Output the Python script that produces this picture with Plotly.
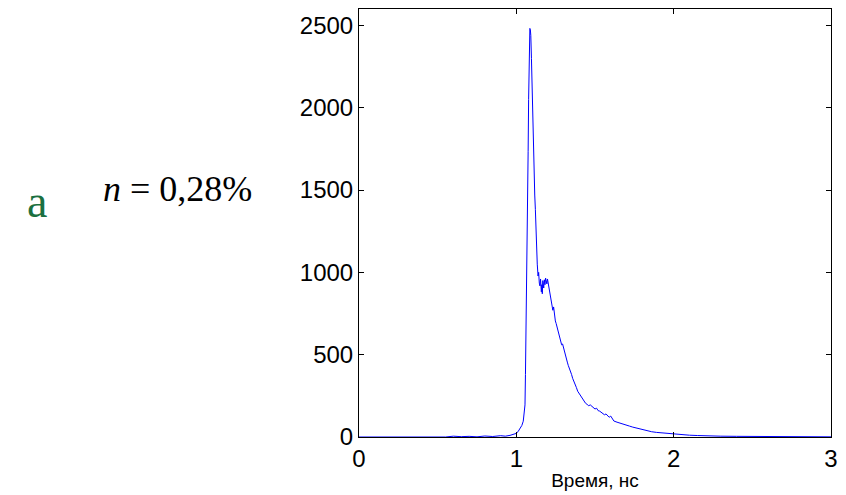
import plotly.graph_objects as go

# time, ns
time_ns = [
    0.0, 0.1, 0.2, 0.3, 0.35, 0.4, 0.45, 0.5, 0.55, 0.6,
    0.65, 0.7, 0.75, 0.8, 0.85, 0.9, 0.93, 0.96, 0.98, 1.0,
    1.013, 1.025, 1.035, 1.044, 1.05, 1.055, 1.058, 1.061, 1.065, 1.069,
    1.072, 1.075, 1.078, 1.08, 1.083, 1.086, 1.089, 1.092, 1.096, 1.1,
    1.103, 1.108, 1.113, 1.117, 1.121, 1.125, 1.128, 1.133, 1.138, 1.142,
    1.146, 1.15, 1.154, 1.157, 1.159, 1.162, 1.165, 1.168, 1.17, 1.174,
    1.178, 1.182, 1.186, 1.19, 1.194, 1.198, 1.202, 1.206, 1.21, 1.214,
    1.218, 1.222, 1.227, 1.232, 1.237, 1.243, 1.248, 1.253, 1.258, 1.264,
    1.27, 1.276, 1.282, 1.288, 1.294, 1.3, 1.306, 1.312, 1.318, 1.324,
    1.33, 1.337, 1.344, 1.351, 1.358, 1.366, 1.374, 1.382, 1.39, 1.4,
    1.41, 1.42, 1.43, 1.44, 1.45, 1.46, 1.47, 1.48, 1.49, 1.5,
    1.51, 1.52, 1.53, 1.54, 1.55, 1.56, 1.57, 1.58, 1.59, 1.6,
    1.62, 1.64, 1.66, 1.68, 1.7, 1.72, 1.74, 1.76, 1.78, 1.8,
    1.83, 1.86, 1.89, 1.92, 1.95, 1.98, 2.01, 2.04, 2.07, 2.1,
    2.15, 2.2, 2.25, 2.3, 2.4, 2.5, 2.6, 2.7, 2.8, 2.9, 3.0,
]

counts = [
    0, 0, 0, 0, 3, 0, 4, 2, 0, 5,
    2, 4, 1, 6, 3, 8, 5, 10, 14, 22,
    36, 52, 70, 96, 140, 195, 380, 580, 820, 1063,
    1420, 1733, 2050, 2277, 2420, 2482, 2475, 2440, 2300, 2120,
    1956, 1760, 1582, 1470, 1383, 1250, 1153, 1050, 978, 1000,
    935, 918, 960, 890, 882, 925, 870, 950, 942, 905,
    955, 925, 965, 948, 930, 960, 940, 918, 900, 880,
    860, 821, 800, 770, 790, 730, 705, 690, 670, 658,
    640, 610, 590, 560, 565, 540, 519, 500, 480, 455,
    435, 420, 395, 380, 356, 340, 320, 300, 278, 262,
    245, 232, 217, 205, 198, 190, 195, 187, 178, 170,
    175, 160, 157, 150, 142, 135, 140, 128, 120, 127,
    97, 90, 85, 78, 72, 66, 60, 55, 50, 45,
    36, 32, 28, 25, 22, 20, 18, 16, 14, 11,
    9, 7, 6, 5, 4, 3, 3, 2, 2, 2, 1,
]

x_ticks = [0, 1, 2, 3]
y_ticks = [0, 500, 1000, 1500, 2000, 2500]
x_title = "Время, нс"
panel_label = "a"
param_label = "<i>n</i> = 0,28%"

fig = go.Figure()
fig.add_trace(go.Scatter(
    x=time_ns, y=counts, mode="lines",
    line=dict(color="#0000ff", width=1),
    showlegend=False, hoverinfo="skip",
))

axis_common = dict(
    showline=True, linecolor="black", linewidth=1, mirror="ticks",
    ticks="inside", ticklen=5, tickcolor="black", tickwidth=1,
    showgrid=False, zeroline=False,
    tickfont=dict(family="Liberation Sans, Arial, sans-serif", size=24, color="black"),
)

fig.update_xaxes(range=[0, 3], tickvals=x_ticks, ticktext=[str(v) for v in x_ticks],
                 title=dict(text=x_title, standoff=2,
                            font=dict(family="Liberation Sans, Arial, sans-serif", size=19, color="black")),
                 **axis_common)
fig.update_yaxes(range=[0, 2600], tickvals=y_ticks, ticktext=[str(v) for v in y_ticks],
                 **axis_common)

fig.add_annotation(xref="paper", yref="paper", x=-0.683, y=0.55,
                   xanchor="center", yanchor="middle",
                   text=panel_label, showarrow=False,
                   font=dict(family="Liberation Serif, Times New Roman, serif", size=46, color="#1b7040"))
fig.add_annotation(xref="paper", yref="paper", x=-0.385, y=0.58,
                   xanchor="center", yanchor="middle",
                   text=param_label, showarrow=False,
                   font=dict(family="Liberation Serif, Times New Roman, serif", size=36, color="black"))

fig.update_layout(
    width=846, height=495,
    margin=dict(l=359, r=8, t=9, b=54),
    plot_bgcolor="white", paper_bgcolor="white",
)

fig.write_html("out.html", config={"displayModeBar": False},
               post_script="document.body.style.margin='0';document.body.style.overflow='hidden';")
